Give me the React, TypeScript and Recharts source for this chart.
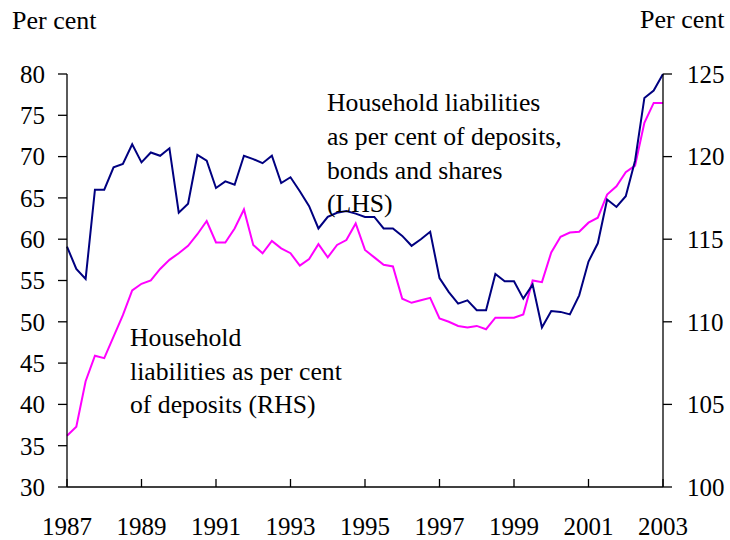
import React from 'react';
import { ComposedChart, Line, XAxis, YAxis } from 'recharts';

// quarterly observations, 1987 Q1 .. 2003 Q1
const START_YEAR = 1987;
const yearTicks = [1987, 1989, 1991, 1993, 1995, 1997, 1999, 2001, 2003];
const lhsTicks = [30, 35, 40, 45, 50, 55, 60, 65, 70, 75, 80];
const rhsTicks = [100, 105, 110, 115, 120, 125];

// Household liabilities as per cent of deposits, bonds and shares (LHS)
const depositsBondsShares = [
  59.1, 56.4, 55.2, 66.0, 66.0, 68.7, 69.1, 71.5, 69.3, 70.5,
  70.1, 71.0, 63.2, 64.3, 70.2, 69.5, 66.2, 67.0, 66.6, 70.1,
  69.7, 69.2, 70.1, 66.8, 67.5, 65.8, 64.0, 61.3, 62.7, 63.2,
  63.4, 63.1, 62.7, 62.7, 61.3, 61.3, 60.4, 59.2, 60.0, 60.9,
  55.3, 53.6, 52.2, 52.6, 51.4, 51.4, 55.8, 54.9, 54.9, 52.8,
  54.5, 49.3, 51.3, 51.2, 50.9, 53.2, 57.3, 59.5, 64.8, 63.9,
  65.2, 69.5, 77.1, 78.0, 80.0,
];

// Household liabilities as per cent of deposits (RHS)
const depositsOnly = [
  103.1, 103.65, 106.4, 107.95, 107.8, 109.1, 110.4, 111.9, 112.3, 112.5,
  113.2, 113.75, 114.15, 114.6, 115.3, 116.1, 114.8, 114.8, 115.65, 116.8,
  114.65, 114.15, 114.9, 114.45, 114.15, 113.4, 113.8, 114.7, 113.9, 114.65,
  114.95, 115.95, 114.35, 113.9, 113.45, 113.35, 111.4, 111.15, 111.3, 111.45,
  110.2, 110.0, 109.75, 109.65, 109.75, 109.55, 110.25, 110.25, 110.25, 110.45,
  112.5, 112.4, 114.2, 115.15, 115.4, 115.45, 116.0, 116.3, 117.7, 118.2,
  119.05, 119.45, 122.05, 123.25, 123.25,
];

const data = depositsBondsShares.map((v, i) => ({
  t: START_YEAR + i / 4,
  lhs: v,
  rhs: depositsOnly[i],
}));

const FONT = '"Liberation Serif", "Times New Roman", serif';
const tickStyle = { fontSize: 25, fill: '#000', fontFamily: FONT };

const YearTick = (props: any) => {
  const { x, y, payload } = props;
  return (
    <g>
      <line x1={x} y1={y - 8} x2={x} y2={y} stroke="#000" strokeWidth={1.3} />
      <text x={x} y={y + 48} textAnchor="middle" fontSize={25} fontFamily={FONT} fill="#000">
        {payload.value}
      </text>
    </g>
  );
};

export default function App() {
  return (
    <div style={{ position: 'absolute', left: 0, top: 0, width: 730, height: 540, background: '#fff' }}>
      <ComposedChart
        width={730}
        height={540}
        data={data}
        margin={{ top: 74, right: 0, left: 0, bottom: 0 }}
      >
        <XAxis
          dataKey="t"
          type="number"
          domain={[1987, 2003]}
          ticks={yearTicks}
          height={53}
          tickLine={false}
          tickSize={0}
          tickMargin={0}
          axisLine={{ stroke: '#000', strokeWidth: 1.3 }}
          tick={<YearTick />}
          interval={0}
        />
        <YAxis
          yAxisId="l"
          orientation="left"
          domain={[30, 80]}
          ticks={lhsTicks}
          width={67}
          tickSize={9}
          tickMargin={13}
          interval={0}
          tick={tickStyle}
          tickLine={{ stroke: '#000', strokeWidth: 1.3 }}
          axisLine={{ stroke: '#000', strokeWidth: 1.3 }}
        />
        <YAxis
          yAxisId="r"
          orientation="right"
          domain={[100, 125]}
          ticks={rhsTicks}
          width={67}
          tickSize={9}
          tickMargin={15}
          interval={0}
          tick={tickStyle}
          tickLine={{ stroke: '#000', strokeWidth: 1.3 }}
          axisLine={{ stroke: '#000', strokeWidth: 1.3 }}
        />
        <Line
          yAxisId="r"
          dataKey="rhs"
          type="linear"
          stroke="#ff00ff"
          strokeWidth={2}
          dot={false}
          isAnimationActive={false}
        />
        <Line
          yAxisId="l"
          dataKey="lhs"
          type="linear"
          stroke="#000080"
          strokeWidth={2}
          dot={false}
          isAnimationActive={false}
        />
      </ComposedChart>
      <svg
        width={730}
        height={540}
        style={{ position: 'absolute', left: 0, top: 0, pointerEvents: 'none' }}
        fontFamily={FONT}
        fontSize={25.7}
        fill="#000"
      >
        <text x={12} y={29} fontSize={26}>Per cent</text>
        <text x={640} y={28} fontSize={26}>Per cent</text>
        <text x={327}>
          <tspan x={327} y={111}>Household liabilities</tspan>
          <tspan x={327} y={145}>as per cent of deposits,</tspan>
          <tspan x={327} y={179}>bonds and shares</tspan>
          <tspan x={327} y={212}>(LHS)</tspan>
        </text>
        <text x={130}>
          <tspan x={130} y={346}>Household</tspan>
          <tspan x={130} y={380}>liabilities as per cent</tspan>
          <tspan x={130} y={413}>of deposits (RHS)</tspan>
        </text>
      </svg>
    </div>
  );
}
